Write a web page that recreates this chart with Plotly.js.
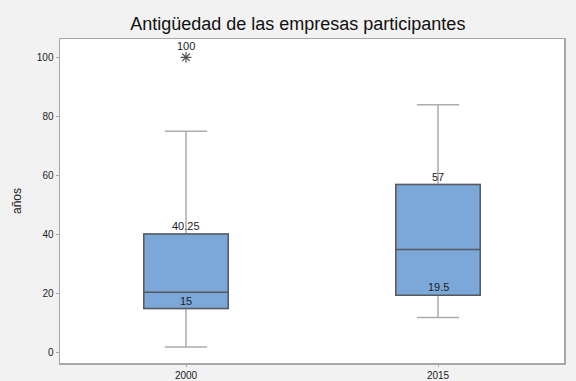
<!DOCTYPE html>
<html>
<head>
<meta charset="utf-8">
<script src="https://cdn.plot.ly/plotly-3.0.1.min.js"></script>
<style>html,body{margin:0;padding:0;background:#f2f2f2;}</style>
</head>
<body>
<div id="chart" style="width:576px;height:381px;"></div>
<script>
const categories = ['2000', '2015'];
const q1Values = [15, 19.5];
const medianValues = [20.5, 35];
const q3Values = [40.25, 57];
const lowerWhisker = [2, 12];
const upperWhisker = [75, 84];
const outlierCategories = ['2000'];
const outlierValues = [100];
const q3Labels = ['40.25', '57'];
const q1Labels = ['15', '19.5'];
const outlierLabels = ['100'];

const boxFill = '#7ba7d9';
function labelFont() {
  return {size: 11, color: '#222222', family: 'Liberation Sans, Arial, sans-serif'};
}

const traces = [
  {
    type: 'box', x: categories, q1: q1Values, median: medianValues, q3: q3Values,
    lowerfence: lowerWhisker, upperfence: upperWhisker,
    width: 0.335, fillcolor: boxFill, line: {color: '#acacac', width: 1.5},
    hoverinfo: 'skip', showlegend: false
  },
  {
    type: 'box', x: categories, q1: q1Values, median: medianValues, q3: q3Values,
    lowerfence: q1Values, upperfence: q3Values,
    width: 0.335, fillcolor: boxFill, line: {color: '#555a60', width: 1.5},
    hoverinfo: 'skip', showlegend: false
  },
  {
    type: 'scatter', mode: 'markers', x: outlierCategories, y: outlierValues,
    marker: {symbol: 'asterisk-open', size: 9, color: '#555', line: {color: '#555', width: 1.2}},
    hoverinfo: 'skip', showlegend: false
  }
];

const annotations = [];
categories.forEach((c, i) => {
  annotations.push({x: i, y: q3Values[i], text: q3Labels[i], showarrow: false, xanchor: 'center', yanchor: 'middle', yshift: 7.5, font: labelFont()});
  annotations.push({x: i, y: q1Values[i], text: q1Labels[i], showarrow: false, xanchor: 'center', yanchor: 'middle', yshift: 8, font: labelFont()});
});
outlierCategories.forEach((c, i) => {
  annotations.push({x: categories.indexOf(c), y: outlierValues[i], text: outlierLabels[i], showarrow: false, xanchor: 'center', yanchor: 'middle', yshift: 11.5, font: labelFont()});
});

const layout = {
  width: 576, height: 381,
  paper_bgcolor: '#f2f2f2', plot_bgcolor: '#ffffff',
  margin: {l: 60, r: 12, t: 39, b: 18},
  font: {family: 'Liberation Sans, Arial, sans-serif', color: '#222'},
  title: {text: 'Antigüedad de las empresas participantes', font: {size: 18, color: '#111'}, x: 0.517, xanchor: 'center', y: 0.937, yanchor: 'middle'},
  showlegend: false,
  annotations: annotations,
  xaxis: {
    type: 'category', range: [-0.5, 1.5],
    showline: true, mirror: true, linecolor: '#a8a8a8', linewidth: 1.5,
    ticks: 'outside', ticklen: 2, tickcolor: '#a8a8a8',
    tickfont: {size: 10, color: '#222'}, showgrid: false, zeroline: false, fixedrange: true
  },
  yaxis: {
    range: [-3.4, 106.2], tickvals: [0, 20, 40, 60, 80, 100],
    showline: true, mirror: true, linecolor: '#a8a8a8', linewidth: 1.5,
    ticks: 'outside', ticklen: 3, tickcolor: '#a8a8a8',
    tickfont: {size: 10, color: '#222'}, showgrid: false, zeroline: false,
    title: {text: 'años', font: {size: 12, color: '#222'}, standoff: 12}
  }
};

Plotly.newPlot('chart', traces, layout, {displayModeBar: false, staticPlot: true});
</script>
</body>
</html>
